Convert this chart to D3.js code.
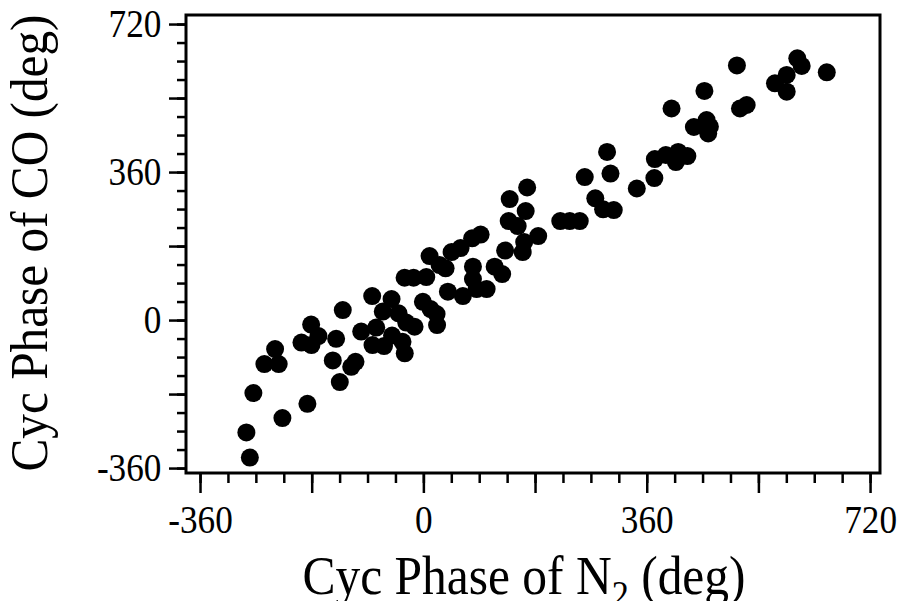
<!DOCTYPE html>
<html>
<head>
<meta charset="utf-8">
<script src="https://cdn.jsdelivr.net/npm/d3@7"></script>
<style>
  html, body { margin: 0; padding: 0; background: #fff; }
  svg { display: block; }
  text { font-family: "Liberation Serif", "Times New Roman", serif; fill: #000; }
</style>
</head>
<body>
<svg id="chart" width="904" height="601"></svg>
<script>
// Cyclic phase of N2 (deg) vs cyclic phase of CO (deg)
const phaseN2 = [
  -279.7, -285.3, -274.0, -227.2, -186.9, -256.3, -239.0, -233.2, -196.5, -180.9,
  -180.4, -169.1, -140.6, -146.0, -134.7, -116.3, -109.4, -129.9, -100.2, -82.5,
  -76.0, -82.0, -63.4, -65.4, -51.3, -40.0, -50.5, -27.6, -33.6, -30.0,
  -14.2, -30.3, -15.8, -0.8, 4.7, 10.0, 11.6, 21.3, 22.1, 26.1,
  35.8, 39.5, 45.5, 60.0, 63.7, 79.9, 78.6, 92.3, 79.9, 85.8,
  102.0, 114.9, 127.0, 131.8, 137.5, 162.5, 160.1, 139.1, 167.3, 164.9,
  152.0, 185.1, 220.6, 235.9, 252.1, 260.1, 277.1, 289.7, 306.9, 296.1,
  301.6, 344.0, 372.3, 373.1, 390.8, 407.0, 410.7, 425.5, 400.0, 436.0,
  456.5, 461.8, 459.1, 453.0, 505.4, 510.3, 521.1, 566.7, 585.6, 585.6,
  602.7, 609.8, 650.2
];
const phaseCO = [
  -334.6, -273.2, -177.6, -238.4, -203.7, -107.1, -70.6, -107.1, -54.7, -10.9,
  -60.8, -38.9, -45.7, -98.1, -150.9, -113.6, -101.5, 24.3, -28.0, 58.4,
  -18.2, -60.8, -63.3, 20.7, 51.1, 16.3, -37.7, -6.1, -52.8, -81.0,
  -16.3, 102.9, 102.9, 44.5, 104.6, 155.7, 26.8, 14.6, -12.2, 133.8,
  125.8, 68.9, 165.5, 175.2, 58.4, 129.7, 198.8, 208.0, 99.8, 75.4,
  75.4, 129.7, 111.9, 169.1, 240.9, 189.8, 165.5, 294.4, 322.4, 265.2,
  228.7, 204.4, 240.9, 240.9, 240.9, 347.9, 296.1, 269.3, 267.6, 408.8,
  356.4, 320.0, 345.5, 391.7, 401.5, 384.4, 408.8, 399.0, 514.6, 469.6,
  486.6, 470.3, 453.8, 557.2, 619.2, 514.6, 523.1, 575.9, 596.1, 555.5,
  636.7, 618.0, 602.7
];
const majorTicks = [-360, -180, 0, 180, 360, 540, 720];
const tickLabels = ["-360", "", "0", "", "360", "", "720"];
const minorTicks = d3.range(-360, 721, 45);
const xTitle = "Cyc Phase of N";
const xTitleSub = "2";
const xTitleEnd = " (deg)";
const yTitle = "Cyc Phase of CO (deg)";

const svg = d3.select("#chart");
const pL = 186, pR = 880, pT = 15, pB = 473;

const x = d3.scaleLinear().domain([-382.6, 736]).range([pL, pR]);
const y = d3.scaleLinear().domain([-372, 742]).range([pB, pT]);

// minor ticks
svg.append("g")
  .attr("transform", `translate(0,${pB})`)
  .call(d3.axisBottom(x).tickValues(minorTicks).tickSize(10).tickFormat(""))
  .call(g => g.select(".domain").remove())
  .call(g => g.selectAll("line").attr("stroke", "#000").attr("stroke-width", 2.5));
svg.append("g")
  .attr("transform", `translate(${pL},0)`)
  .call(d3.axisLeft(y).tickValues(minorTicks).tickSize(9).tickFormat(""))
  .call(g => g.select(".domain").remove())
  .call(g => g.selectAll("line").attr("stroke", "#000").attr("stroke-width", 2.5));

// major ticks with labels
const xAxis = svg.append("g")
  .attr("transform", `translate(0,${pB})`)
  .call(d3.axisBottom(x).tickValues(majorTicks).tickSize(20).tickPadding(12)
    .tickFormat((d, i) => tickLabels[i]));
xAxis.select(".domain").remove();
xAxis.selectAll("line").attr("stroke", "#000").attr("stroke-width", 2.5);
xAxis.selectAll("text").attr("font-size", 40).attr("font-family", "Liberation Serif")
  .attr("fill", "#000").attr("transform", "scale(0.88,1)");

const yAxis = svg.append("g")
  .attr("transform", `translate(${pL},0)`)
  .call(d3.axisLeft(y).tickValues(majorTicks).tickSize(17).tickPadding(11)
    .tickFormat((d, i) => tickLabels[i]));
yAxis.select(".domain").remove();
yAxis.selectAll("line").attr("stroke", "#000").attr("stroke-width", 2.5);
yAxis.selectAll("text").attr("font-size", 40).attr("font-family", "Liberation Serif")
  .attr("fill", "#000").attr("transform", "scale(0.88,1)");

// frame
svg.append("rect")
  .attr("x", pL).attr("y", pT)
  .attr("width", pR - pL).attr("height", pB - pT)
  .attr("fill", "none").attr("stroke", "#000").attr("stroke-width", 3);

// points
const pts = phaseN2.map((v, i) => ({ x: v, y: phaseCO[i] }));
svg.append("g").selectAll("circle").data(pts).join("circle")
  .attr("cx", d => x(d.x)).attr("cy", d => y(d.y)).attr("r", 9)
  .attr("fill", "#000");

// titles
const xt = svg.append("text")
  .attr("transform", "translate(524,594) scale(0.9,1)")
  .attr("text-anchor", "middle").attr("font-size", 55);
xt.append("tspan").text(xTitle);
xt.append("tspan").attr("font-size", 38).attr("dy", 13).text(xTitleSub);
xt.append("tspan").attr("dy", -13).text(xTitleEnd);

svg.append("text")
  .attr("transform", "translate(47,243) rotate(-90) scale(0.93,1)")
  .attr("text-anchor", "middle").attr("font-size", 53)
  .text(yTitle);
</script>
</body>
</html>
